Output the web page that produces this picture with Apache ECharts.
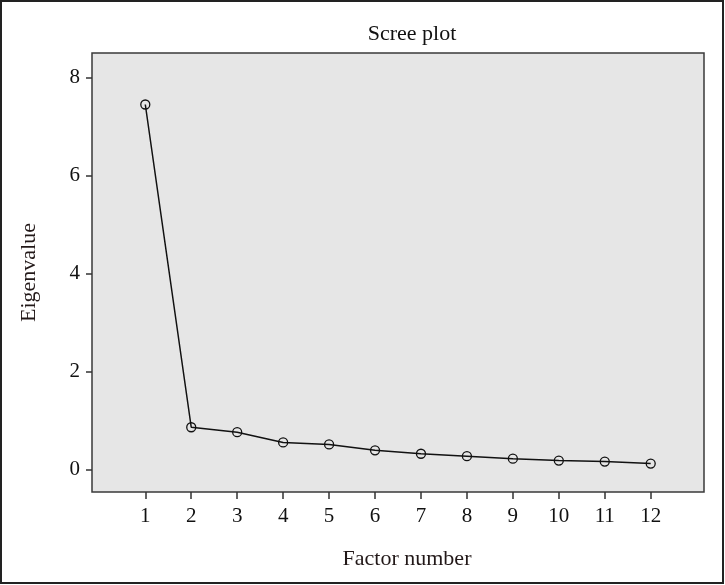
<!DOCTYPE html>
<html>
<head>
<meta charset="utf-8">
<script src="https://cdn.jsdelivr.net/npm/echarts@6/dist/echarts.min.js"></script>
<style>
html,body{margin:0;padding:0;background:#fff;}
#chart{width:725px;height:585px;}
</style>
</head>
<body>
<div id="chart"></div>
<script>
var factorNumbers = [1,2,3,4,5,6,7,8,9,10,11,12];
var eigenvalues = [7.45,0.87,0.77,0.56,0.52,0.40,0.33,0.28,0.23,0.19,0.17,0.13];
var xTickValues = [1,2,3,4,5,6,7,8,9,10,11,12];
var yTickValues = [0,2,4,6,8];
var chartTitle = 'Scree plot';
var xName = 'Factor number';
var yName = 'Eigenvalue';

var points = factorNumbers.map(function(f,i){ return [f, eigenvalues[i]]; });
var FONT = '"Liberation Serif", "Times New Roman", serif';

var chart = echarts.init(document.getElementById('chart'));
chart.setOption({
  animation: false,
  backgroundColor: '#ffffff',
  title: {
    text: chartTitle,
    left: 407, top: 18, textAlign: 'center',
    textStyle: {fontFamily: FONT, fontSize: 22, fontWeight: 'normal', color: '#111'}
  },
  graphic: [{
    type: 'rect', silent: true,
    shape: {x: 1, y: 1, width: 722, height: 582},
    style: {fill: 'none', stroke: '#222', lineWidth: 2}
  }],
  grid: {
    left: 92, top: 53, right: 21, bottom: 93,
    show: true, backgroundColor: '#e6e6e6', borderColor: '#3a3a3a', borderWidth: 1.5
  },
  xAxis: {
    type: 'value', min: -0.16, max: 13.16,
    name: xName, nameLocation: 'middle', nameGap: 56,
    nameTextStyle: {fontFamily: FONT, fontSize: 22, color: '#221818', padding: [0,0,0,18]},
    axisLine: {show: false, onZero: false},
    splitLine: {show: false},
    axisTick: {show: true, inside: false, length: 7, customValues: xTickValues, lineStyle: {color: '#333', width: 1.5}},
    axisLabel: {customValues: xTickValues, margin: 14, fontFamily: FONT, fontSize: 21, color: '#111'}
  },
  yAxis: {
    type: 'value', min: -0.45, max: 8.5,
    name: yName, nameLocation: 'middle', nameGap: 52,
    nameTextStyle: {fontFamily: FONT, fontSize: 22, color: '#221818'},
    axisLine: {show: false, onZero: false},
    splitLine: {show: false},
    axisTick: {show: true, inside: false, length: 6, customValues: yTickValues, lineStyle: {color: '#333', width: 1.5}},
    axisLabel: {customValues: yTickValues, margin: 12, fontFamily: FONT, fontSize: 21, color: '#111'}
  },
  series: [{
    type: 'line',
    data: points,
    symbol: 'circle', symbolSize: 9,
    itemStyle: {color: 'rgba(0,0,0,0)', borderColor: '#111', borderWidth: 1.3},
    lineStyle: {color: '#111', width: 1.5}
  }]
});
</script>
</body>
</html>
